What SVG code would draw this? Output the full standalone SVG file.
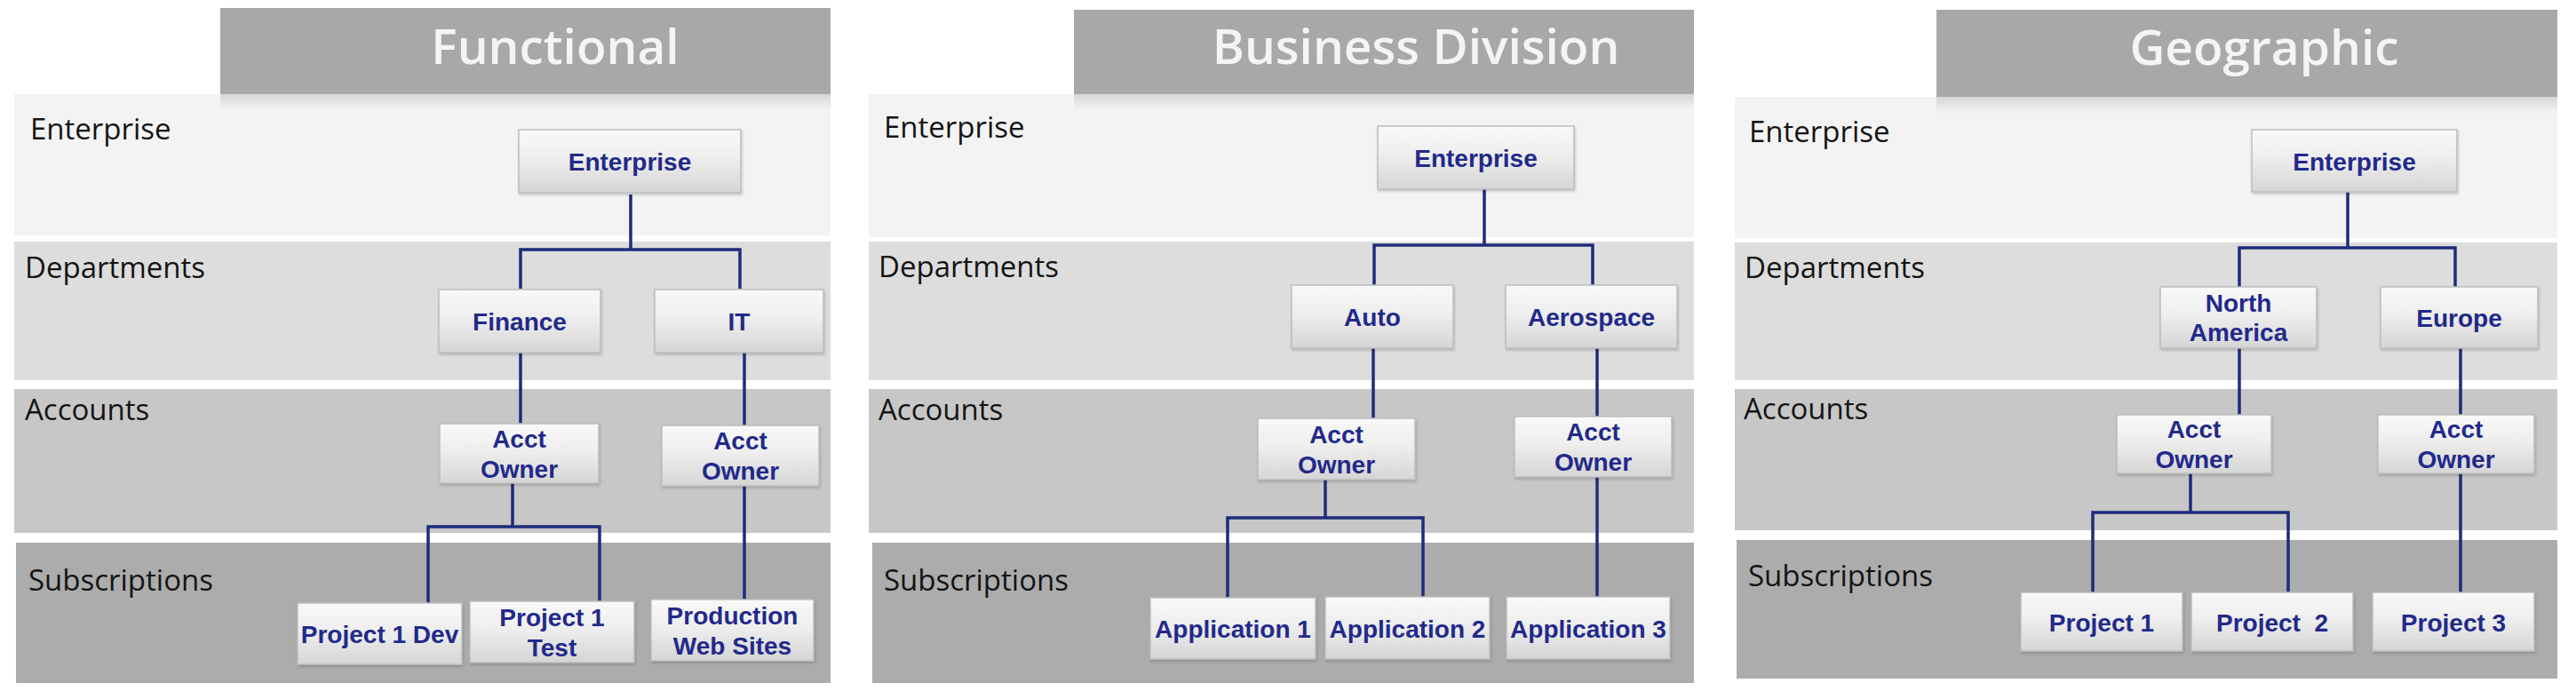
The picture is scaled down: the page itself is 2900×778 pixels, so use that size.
<svg xmlns="http://www.w3.org/2000/svg" width="2900" height="778" viewBox="0 0 2900 778">
  <defs>
    <linearGradient id="ng" x1="0" y1="0" x2="0" y2="1">
      <stop offset="0" stop-color="#f9f9f9"/>
      <stop offset="0.45" stop-color="#eeeeee"/>
      <stop offset="1" stop-color="#d5d5d5"/>
    </linearGradient>
    <linearGradient id="sh" x1="0" y1="0" x2="0" y2="1">
      <stop offset="0" stop-color="#000" stop-opacity="0.12"/>
      <stop offset="1" stop-color="#000" stop-opacity="0"/>
    </linearGradient>
    <filter id="ds" x="-10%" y="-10%" width="120%" height="130%">
      <feDropShadow dx="1" dy="2" stdDeviation="1.5" flood-color="#000" flood-opacity="0.18"/>
    </filter>
    <style>
      .hdr{fill:#a8a8a8}
      .title{font-family:'Open Sans','Liberation Sans',sans-serif;font-size:55px;font-weight:600;fill:#f4f4f4;text-anchor:middle}
      .b1{fill:#f3f3f3}.b2{fill:#dddddd}.b3{fill:#c7c7c7}.b4{fill:#acacac}
      .lbl{font-family:'Open Sans','Liberation Sans',sans-serif;font-size:33px;fill:#141414}
      .box{fill:url(#ng);stroke:#bdbdbd;stroke-width:1.5;filter:url(#ds)}
      .nt{font-family:'Liberation Sans',Arial,sans-serif;font-weight:bold;font-size:28px;fill:#22298a;text-anchor:middle}
      .conn{stroke:#1f2b7c;stroke-width:3.5;fill:none;stroke-linejoin:miter}
    </style>
  </defs>
  <rect width="2900" height="778" fill="#ffffff"/>

  <!-- Panel 1: Functional -->
  <g id="panel-functional">
    <rect class="b1" x="16" y="106" width="919" height="159"/>
    <rect class="b2" x="16" y="272" width="919" height="156"/>
    <rect class="b3" x="16" y="438" width="919" height="162"/>
    <rect class="b4" x="18" y="611" width="917" height="158"/>
    <rect x="248" y="106" width="687" height="18" fill="url(#sh)"/>
    <rect class="hdr" x="248" y="9" width="687" height="97"/>
    <text class="title" x="625" y="72">Functional</text>
    <text class="lbl" x="34" y="157">Enterprise</text>
    <text class="lbl" x="28" y="313">Departments</text>
    <text class="lbl" x="28" y="473">Accounts</text>
    <text class="lbl" x="32" y="665">Subscriptions</text>
  </g>

  <!-- Panel 2: Business Division -->
  <g id="panel-business">
    <rect class="b1" x="978" y="106" width="929" height="161"/>
    <rect class="b2" x="978" y="272" width="929" height="156"/>
    <rect class="b3" x="978" y="438" width="929" height="162"/>
    <rect class="b4" x="982" y="611" width="925" height="158"/>
    <rect x="1209" y="106" width="698" height="18" fill="url(#sh)"/>
    <rect class="hdr" x="1209" y="11" width="698" height="95"/>
    <text class="title" x="1594" y="72">Business Division</text>
    <text class="lbl" x="995" y="155">Enterprise</text>
    <text class="lbl" x="989" y="312">Departments</text>
    <text class="lbl" x="989" y="473">Accounts</text>
    <text class="lbl" x="995" y="665">Subscriptions</text>
  </g>

  <!-- Panel 3: Geographic -->
  <g id="panel-geographic">
    <rect class="b1" x="1953" y="109" width="926" height="159"/>
    <rect class="b2" x="1953" y="273" width="926" height="155"/>
    <rect class="b3" x="1953" y="438" width="926" height="159"/>
    <rect class="b4" x="1955" y="608" width="924" height="156"/>
    <rect x="2180" y="109" width="699" height="18" fill="url(#sh)"/>
    <rect class="hdr" x="2180" y="11" width="699" height="98"/>
    <text class="title" x="2549" y="73">Geographic</text>
    <text class="lbl" x="1969" y="160">Enterprise</text>
    <text class="lbl" x="1964" y="313">Departments</text>
    <text class="lbl" x="1963" y="472">Accounts</text>
    <text class="lbl" x="1968" y="660">Subscriptions</text>
  </g>

  <!-- Connectors -->
  <g id="connectors">
    <path class="conn" d="M710 219 V281 M586 325 V281 H833 V325"/>
    <path class="conn" d="M586 397 V477"/>
    <path class="conn" d="M838 397 V479"/>
    <path class="conn" d="M577 544 V593 M482 679 V593 H675 V677"/>
    <path class="conn" d="M838 547 V675"/>

    <path class="conn" d="M1671 213 V276 M1547 321 V276 H1793 V321"/>
    <path class="conn" d="M1546 392 V471"/>
    <path class="conn" d="M1798 392 V469"/>
    <path class="conn" d="M1492 540 V583 M1382 673 V583 H1602 V672"/>
    <path class="conn" d="M1798 537 V672"/>

    <path class="conn" d="M2643 216 V279 M2521 323 V279 H2764 V323"/>
    <path class="conn" d="M2521 392 V467"/>
    <path class="conn" d="M2770 392 V467"/>
    <path class="conn" d="M2466 533 V577 M2356 667 V577 H2576 V667"/>
    <path class="conn" d="M2770 533 V667"/>
  </g>

  <!-- Panel 1 nodes -->
  <g id="f-enterprise"><rect class="box" x="584" y="146" width="250" height="71"/><text class="nt" x="709" y="192">Enterprise</text></g>
  <g id="f-finance"><rect class="box" x="494" y="326" width="182" height="71"/><text class="nt" x="585" y="372">Finance</text></g>
  <g id="f-it"><rect class="box" x="737" y="326" width="190" height="71"/><text class="nt" x="832" y="372">IT</text></g>
  <g id="f-acct1"><rect class="box" x="495" y="477" width="179" height="67"/><text class="nt" x="584.5" y="503.5">Acct</text><text class="nt" x="584.5" y="537.5">Owner</text></g>
  <g id="f-acct2"><rect class="box" x="745" y="479" width="177" height="68"/><text class="nt" x="833.5" y="506">Acct</text><text class="nt" x="833.5" y="540">Owner</text></g>
  <g id="f-p1dev"><rect class="box" x="335" y="679" width="185" height="69"/><text class="nt" x="427.5" y="724">Project 1 Dev</text></g>
  <g id="f-p1test"><rect class="box" x="529" y="677" width="185" height="69"/><text class="nt" x="621.5" y="704.5">Project 1</text><text class="nt" x="621.5" y="738.5">Test</text></g>
  <g id="f-prod"><rect class="box" x="733" y="675" width="183" height="69"/><text class="nt" x="824.5" y="702.5">Production</text><text class="nt" x="824.5" y="736.5">Web Sites</text></g>

  <!-- Panel 2 nodes -->
  <g id="b-enterprise"><rect class="box" x="1551" y="142" width="221" height="71"/><text class="nt" x="1661.5" y="188">Enterprise</text></g>
  <g id="b-auto"><rect class="box" x="1454" y="321" width="182" height="71"/><text class="nt" x="1545" y="367">Auto</text></g>
  <g id="b-aero"><rect class="box" x="1695" y="321" width="193" height="71"/><text class="nt" x="1791.5" y="367">Aerospace</text></g>
  <g id="b-acct1"><rect class="box" x="1416" y="471" width="177" height="69"/><text class="nt" x="1504.5" y="498.5">Acct</text><text class="nt" x="1504.5" y="532.5">Owner</text></g>
  <g id="b-acct2"><rect class="box" x="1705" y="469" width="177" height="68"/><text class="nt" x="1793.5" y="496">Acct</text><text class="nt" x="1793.5" y="530">Owner</text></g>
  <g id="b-app1"><rect class="box" x="1295" y="673" width="186" height="69"/><text class="nt" x="1388" y="718">Application 1</text></g>
  <g id="b-app2"><rect class="box" x="1492" y="672" width="185" height="70"/><text class="nt" x="1584.5" y="718">Application 2</text></g>
  <g id="b-app3"><rect class="box" x="1696" y="672" width="184" height="70"/><text class="nt" x="1788" y="718">Application 3</text></g>

  <!-- Panel 3 nodes -->
  <g id="g-enterprise"><rect class="box" x="2535" y="146" width="231" height="70"/><text class="nt" x="2650.5" y="192">Enterprise</text></g>
  <g id="g-na"><rect class="box" x="2432" y="323" width="176" height="69"/><text class="nt" x="2520" y="350.5">North</text><text class="nt" x="2520" y="384">America</text></g>
  <g id="g-eu"><rect class="box" x="2680" y="323" width="177" height="69"/><text class="nt" x="2768.5" y="368">Europe</text></g>
  <g id="g-acct1"><rect class="box" x="2383" y="467" width="174" height="66"/><text class="nt" x="2470" y="493">Acct</text><text class="nt" x="2470" y="527">Owner</text></g>
  <g id="g-acct2"><rect class="box" x="2677" y="467" width="176" height="66"/><text class="nt" x="2765" y="493">Acct</text><text class="nt" x="2765" y="527">Owner</text></g>
  <g id="g-p1"><rect class="box" x="2275" y="667" width="182" height="66"/><text class="nt" x="2366" y="711">Project 1</text></g>
  <g id="g-p2"><rect class="box" x="2467" y="667" width="182" height="66"/><text class="nt" x="2558" y="711" xml:space="preserve">Project  2</text></g>
  <g id="g-p3"><rect class="box" x="2671" y="667" width="182" height="66"/><text class="nt" x="2762" y="711">Project 3</text></g>
</svg>
